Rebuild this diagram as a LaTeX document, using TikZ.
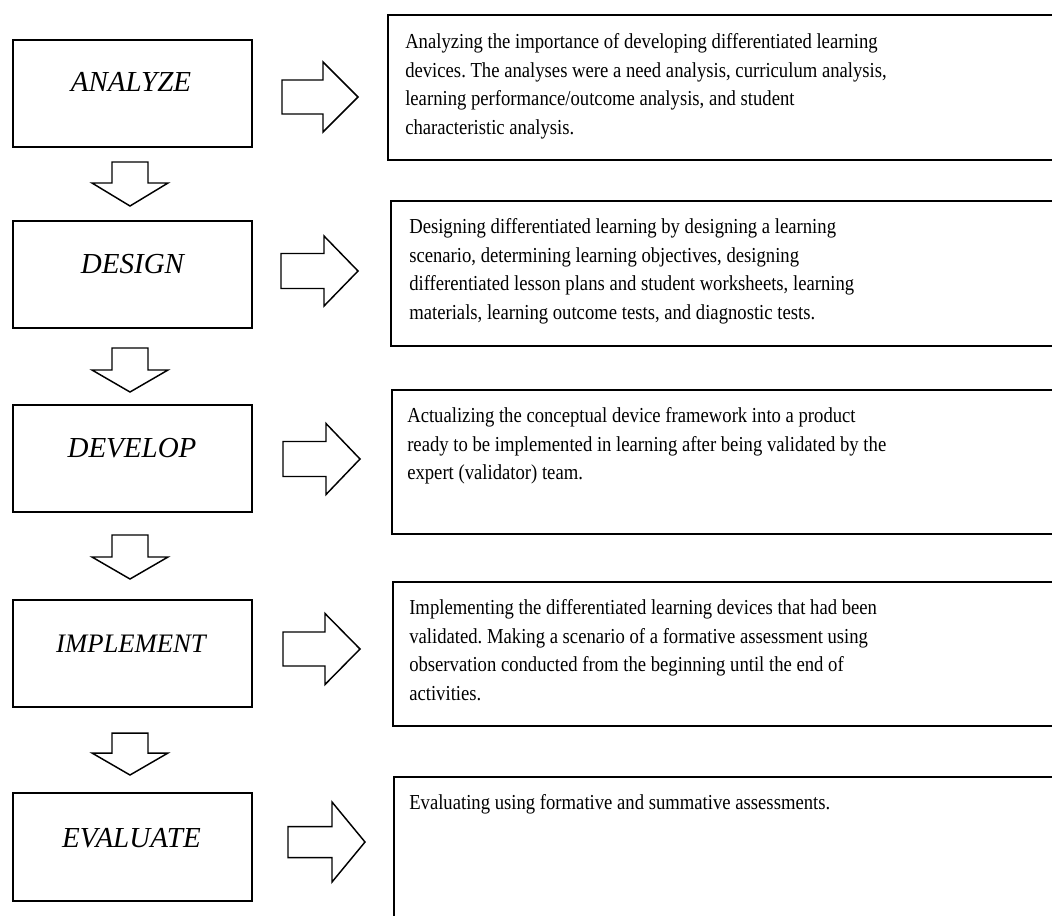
\documentclass[tikz,border=0pt]{standalone}
\usepackage{fontspec}
\setmainfont{Liberation Serif}
\newfontfamily\rfont{Liberation Serif}[FakeStretch=0.875]
\frenchspacing
\newcommand\rblock[6]{\draw[blk] (#1,#4-#5) -- (#2,#4-#5) -- (#2,#4-#6) -- (#3,#4) -- (#2,#4+#6) -- (#2,#4+#5) -- (#1,#4+#5) -- cycle;}
\newcommand\dblock[3]{\draw[blk] (112,#1) -- (148,#1) -- (148,#2) -- (168,#2) -- (130,#3) -- (92,#2) -- (112,#2) -- cycle;}
\begin{document}
\begin{tikzpicture}[x=0.75pt,y=-0.75pt,
  lbox/.style={draw, line width=1.6pt, minimum width=179.25pt, minimum height=80.25pt, inner sep=0pt},
  lab/.style={anchor=base, inner sep=0pt, font=\fontsize{21.75}{26}\selectfont\itshape},
  rbox/.style={draw, line width=1.6pt, anchor=north west, minimum width=525pt, inner sep=0pt},
  rtext/.style={anchor=north west, inner sep=0pt, align=left, font=\rfont\fontsize{16}{21.5}\selectfont},
  blk/.style={draw, line width=1.1pt, line join=miter, fill=white}]
\clip (0,0) rectangle (1052,915);
\fill[white] (0,0) rectangle (1052,915);
% left boxes
\node[lbox] (analyze) at (132.5,93.5) {};
\node[lbox] (design) at (132.5,274.5) {};
\node[lbox] (develop) at (132.5,458.5) {};
\node[lbox] (implement) at (132.5,653.5) {};
\node[lbox, minimum height=81pt] (evaluate) at (132.5,847) {};
\node[lab] (tanalyze) at (131,91) {ANALYZE};
\node[lab] (tdesign) at (132.5,273) {DESIGN};
\node[lab] (tdevelop) at (132,457) {DEVELOP};
\node[lab, font=\fontsize{20}{24}\selectfont\itshape] (timplement) at (131,652) {IMPLEMENT};
\node[lab] (tevaluate) at (131.5,847) {EVALUATE};
% right boxes
\node[rbox, minimum height=108.75pt] (r1) at (387,14) {};
\node[rbox, minimum height=108.75pt] (r2) at (390,200) {};
\node[rbox, minimum height=108pt] (r3) at (391,389) {};
\node[rbox, minimum height=108pt] (r4) at (392,581) {};
\node[rbox, minimum height=168.75pt] (r5) at (393,776) {};
\node[rtext] (t1) at (405,28) {\strut Analyzing the importance of developing differentiated learning\\devices. The analyses were a need analysis, curriculum analysis,\\learning performance/outcome analysis, and student\\characteristic analysis.};
\node[rtext] (t2) at (409,213) {\strut Designing differentiated learning by designing a learning\\scenario, determining learning objectives, designing\\differentiated lesson plans and student worksheets, learning\\materials, learning outcome tests, and diagnostic tests.};
\node[rtext] (t3) at (407,402) {\strut Actualizing the conceptual device framework into a product\\ready to be implemented in learning after being validated by the\\expert (validator) team.};
\node[rtext] (t4) at (409,594) {\strut Implementing the differentiated learning devices that had been\\validated. Making a scenario of a formative assessment using\\observation conducted from the beginning until the end of\\activities.};
\node[rtext] (t5) at (409,789) {\strut Evaluating using formative and summative assessments.};
% right block arrows (between left and right boxes)
\rblock{282}{323}{358}{97}{17}{35}
\rblock{281}{324}{358}{271}{17.5}{35}
\rblock{283}{326}{360}{459}{17.5}{35.5}
\rblock{283}{325}{360}{649}{17}{35.5}
\rblock{288}{332}{365}{842}{15.5}{40}
% down block arrows
\dblock{162}{183}{206}
\dblock{348}{370}{392}
\dblock{535}{557}{579}
\dblock{733}{753}{775}
\end{tikzpicture}
\end{document}
